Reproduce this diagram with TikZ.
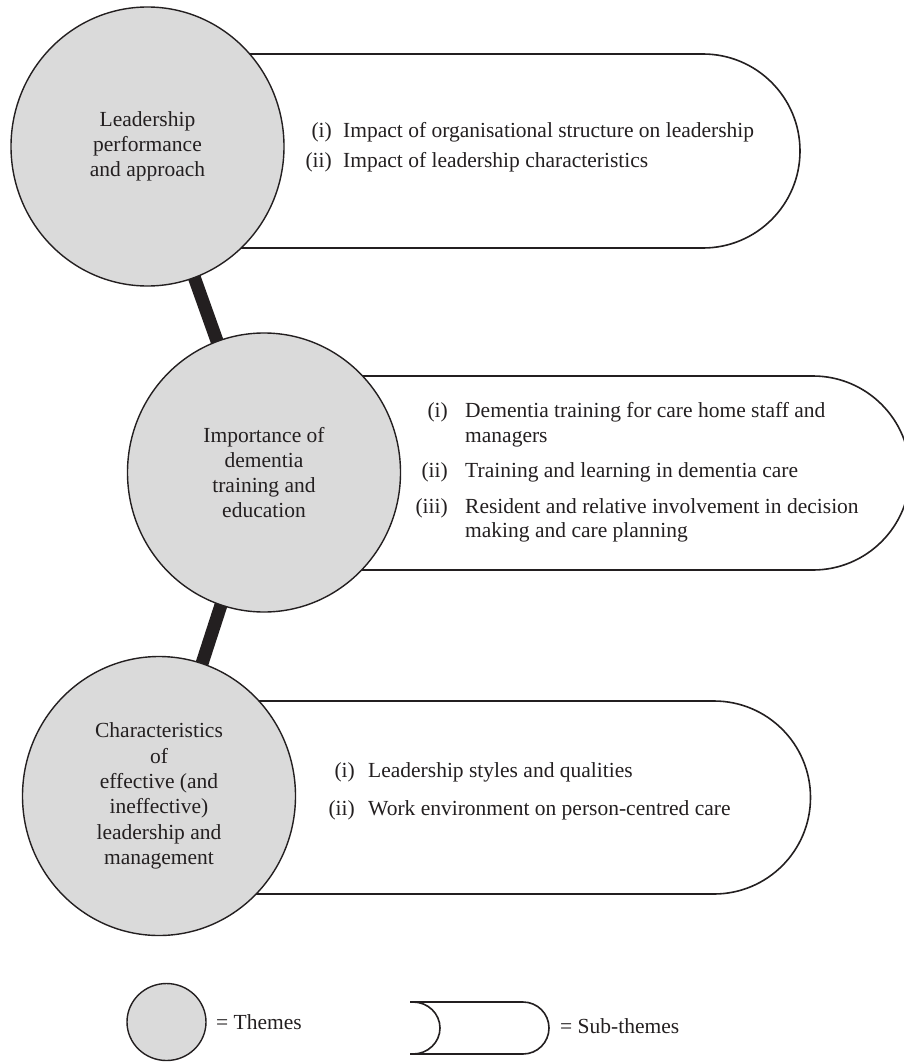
\documentclass[tikz,border=0pt]{standalone}
\usepackage{fontspec}
\setmainfont{Liberation Serif}
\usetikzlibrary{shapes.geometric,backgrounds}
\definecolor{ink}{HTML}{231F20}
\definecolor{themefill}{HTML}{DADADA}
\begin{document}
\begin{tikzpicture}[x=1pt,y=-1pt,
  txt/.style={text=ink, font=\fontsize{21.5}{25.3}\selectfont},
  theme/.style={ellipse, draw=ink, line width=1.4pt, fill=themefill,
    minimum width=273pt, minimum height=279pt, inner sep=0pt, align=center, txt},
  subtheme/.style={draw=ink, line width=1.6pt, fill=white},
  link/.style={draw=ink, line width=13pt},
  lab/.style={anchor=base east, inner sep=0pt, txt},
  item/.style={anchor=base west, inner sep=0pt, txt},
]
\useasboundingbox (0,0) rectangle (904,1062);

% themes
\node[theme] (t1) at (147.5,146.5) {Leadership\\performance\\and approach};
\node[theme] (t2) at (264,472.5) {Importance of\\dementia\\training and\\education};
\node[theme] (t3) at (159,796) {Characteristics\\of\\effective (and\\ineffective)\\leadership and\\management};

% sub-theme pills and links behind the themes
\begin{scope}[on background layer]
  \path[subtheme] (147.5,54) -- (703,54) arc[start angle=90,end angle=-90,radius=97pt] -- (147.5,248);
  \path[subtheme] (264,376) -- (813,376) arc[start angle=90,end angle=-90,radius=97pt] -- (264,570);
  \path[subtheme] (159,701) -- (714,701) arc[start angle=90,end angle=-90,radius=96.5pt] -- (159,894);
  \draw[link] (t1.center) -- (t2.center);
  \draw[link] (t2.center) -- (t3.center);
\end{scope}

% sub-theme texts
\node[lab] (l11) at (332,137) {(i)};
\node[item] (s11) at (343,137) {Impact of organisational structure on leadership};
\node[lab] (l12) at (332,167) {(ii)};
\node[item] (s12) at (343,167) {Impact of leadership characteristics};

\node[lab] (l21) at (448,417) {(i)};
\node[item] (s21a) at (465,417) {Dementia training for care home staff and};
\node[item] (s21b) at (465,442) {managers};
\node[lab] (l22) at (448,477) {(ii)};
\node[item] (s22) at (465,477) {Training and learning in dementia care};
\node[lab] (l23) at (448,513) {(iii)};
\node[item] (s23a) at (465,513) {Resident and relative involvement in decision};
\node[item] (s23b) at (465,537) {making and care planning};

\node[lab] (l31) at (355,777) {(i)};
\node[item] (s31) at (368,777) {Leadership styles and qualities};
\node[lab] (l32) at (355,815) {(ii)};
\node[item] (s32) at (368,815) {Work environment on person-centred care};

% legend
\node[ellipse, draw=ink, line width=1.4pt, fill=themefill, minimum width=79pt,
  minimum height=77pt, inner sep=0pt] (lt) at (166.5,1022) {};
\node[item] (ltx) at (216,1029) {= Themes};
\path[subtheme] (410,1002) -- (523,1002) arc[start angle=90,end angle=-90,radius=26pt] -- (410,1054);
\draw[draw=ink, line width=1.6pt] (413,1002) arc[start angle=90,end angle=-90,x radius=27pt,y radius=26pt];
\node[item] (lsx) at (560,1033) {= Sub-themes};
\end{tikzpicture}
\end{document}
